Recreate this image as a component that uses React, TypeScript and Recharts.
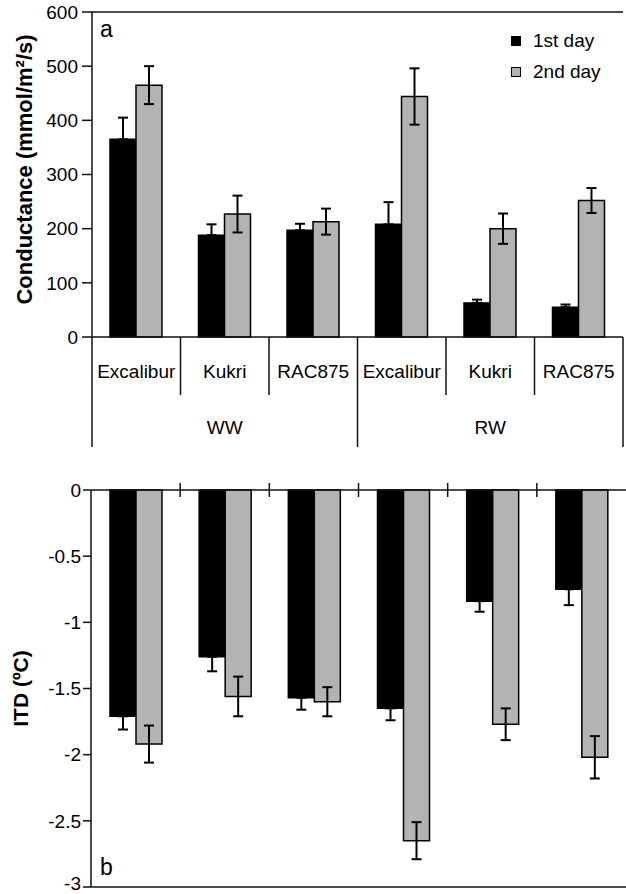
import { BarChart, Bar, XAxis, YAxis, ErrorBar, ReferenceLine, Legend } from "recharts";

// cultivars and watering groups
const categories = ["Excalibur", "Kukri", "RAC875", "Excalibur", "Kukri", "RAC875"];
const groups = ["WW", "WW", "WW", "RW", "RW", "RW"];

// panel a: stomatal conductance (mmol/m2/s)
const conductanceDay1 = [365, 188, 197, 208, 63, 55];
const conductanceErr1 = [40, 20, 12, 41, 6, 5];
const conductanceDay2 = [465, 227, 213, 444, 200, 252];
const conductanceErr2 = [35, 34, 24, 52, 28, 23];
const conductanceTicks = [0, 100, 200, 300, 400, 500, 600];

// panel b: ITD (ºC)
const itdDay1 = [-1.71, -1.26, -1.57, -1.65, -0.84, -0.75];
const itdErr1 = [0.1, 0.11, 0.09, 0.09, 0.08, 0.12];
const itdDay2 = [-1.92, -1.56, -1.6, -2.65, -1.77, -2.02];
const itdErr2 = [0.14, 0.15, 0.11, 0.14, 0.12, 0.16];
const itdTicks = [0, -0.5, -1, -1.5, -2, -2.5, -3];

const FONT = "'Liberation Sans', Arial, Helvetica, sans-serif";
const GRAY = "#b3b3b3";
const INK = "#111";

// black bars only show the outward half of the error bar
const topData = categories.map((name, i) => ({
  name,
  day1: conductanceDay1[i],
  day2: conductanceDay2[i],
  day1Err: [0, conductanceErr1[i]],
  day2Err: conductanceErr2[i],
}));

const bottomData = categories.map((name, i) => ({
  name,
  day1: itdDay1[i],
  day2: itdDay2[i],
  day1Err: [itdErr1[i], 0],
  day2Err: itdErr2[i],
}));

function CultivarTick(props: any) {
  const { x, y, payload } = props;
  const half = payload?.offset || 44;
  const i = payload?.index ?? props.index;
  return (
    <g>
      <text x={x} y={y + 41} textAnchor="middle" fontSize={19} fontFamily={FONT} fill="#000">
        {payload.value}
      </text>
      {i !== 2 && i !== 5 && (
        <line x1={x + half} x2={x + half} y1={y} y2={y + 58} stroke={INK} strokeWidth={1.5} />
      )}
      {(i === 0 || i === 3) && (
        <line x1={x - half} x2={x - half} y1={y} y2={y + 110} stroke={INK} strokeWidth={1.5} />
      )}
      {i === 5 && (
        <line x1={x + half} x2={x + half} y1={y} y2={y + 110} stroke={INK} strokeWidth={1.5} />
      )}
      {(i === 1 || i === 4) && (
        <text x={x} y={y + 97} textAnchor="middle" fontSize={19} fontFamily={FONT} fill="#000">
          {groups[i]}
        </text>
      )}
    </g>
  );
}

function BoundaryTick(props: any) {
  const { x, y, payload } = props;
  const half = payload?.offset || 44;
  const i = payload?.index ?? props.index;
  if (i === 5) return <g />;
  return <line x1={x + half} x2={x + half} y1={y - 7} y2={y + 7} stroke={INK} strokeWidth={1.5} />;
}

function DayLegend({ payload }: any) {
  return (
    <div style={{ fontFamily: FONT, fontSize: 19, color: "#000" }}>
      {(payload || []).map((e: any, i: number) => (
        <div key={i} style={{ display: "flex", alignItems: "center", height: 31 }}>
          <span
            style={{
              display: "inline-block",
              width: 8,
              height: 8,
              background: e.color ?? e.payload?.fill,
              border: "1.5px solid #000",
              marginRight: 12,
            }}
          />
          {e.value}
        </div>
      ))}
    </div>
  );
}

function axisTitle(text: string, cx: number, size: number, shift: number) {
  return ({ viewBox }: any) => {
    const cy = viewBox.y + viewBox.height / 2 + shift;
    return (
      <text
        x={cx}
        y={cy}
        transform={`rotate(-90, ${cx}, ${cy})`}
        textAnchor="middle"
        dominantBaseline="central"
        fontSize={size}
        fontWeight="bold"
        fontFamily={FONT}
        fill="#000"
      >
        {text}
      </text>
    );
  };
}

const tickStyle = { fontSize: 19, fontFamily: FONT, fill: "#000" };
const lineStyle = { stroke: INK, strokeWidth: 1.5 };

export default function App() {
  return (
    <div style={{ position: "absolute", left: 0, top: 0, width: 626, height: 894, background: "#fff" }}>
      <div style={{ position: "absolute", left: 0, top: 0 }}>
        <BarChart
          width={626}
          height={460}
          data={topData}
          margin={{ top: 12, right: 3, left: 0, bottom: 0 }}
          barSize={26}
          barGap={0}
        >
          <XAxis
            dataKey="name"
            height={123}
            interval={0}
            tickSize={0}
            tickMargin={0}
            tickLine={false}
            axisLine={lineStyle}
            tick={<CultivarTick />}
          />
          <YAxis
            width={92}
            domain={[0, 600]}
            ticks={conductanceTicks}
            tickSize={10}
            tickMargin={4}
            tick={tickStyle}
            tickLine={lineStyle}
            axisLine={lineStyle}
            label={{ content: axisTitle("Conductance (mmol/m²/s)", 24, 22, -5) }}
          />
          <YAxis
            yAxisId="frame"
            orientation="right"
            width={0}
            domain={[0, 600]}
            tick={false}
            tickLine={false}
            axisLine={lineStyle}
          />
          <ReferenceLine y={600} stroke={INK} strokeWidth={1.5} />
          <Legend
            layout="vertical"
            align="center"
            verticalAlign="middle"
            content={<DayLegend />}
            wrapperStyle={{ position: "absolute", left: 511, top: 25, width: 110 }}
          />
          <Bar dataKey="day1" name="1st day" fill="#000" stroke="#000" strokeWidth={1.5} isAnimationActive={false}>
            <ErrorBar dataKey="day1Err" width={5} stroke="#000" strokeWidth={2} />
          </Bar>
          <Bar dataKey="day2" name="2nd day" fill={GRAY} stroke="#000" strokeWidth={1.5} isAnimationActive={false}>
            <ErrorBar dataKey="day2Err" width={5} stroke="#000" strokeWidth={2} />
          </Bar>
        </BarChart>
      </div>

      <div style={{ position: "absolute", left: 0, top: 470 }}>
        <BarChart
          width={626}
          height={424}
          data={bottomData}
          margin={{ top: 0, right: 0, left: 0, bottom: 7 }}
          barSize={26}
          barGap={0}
        >
          <XAxis
            dataKey="name"
            orientation="top"
            height={20}
            interval={0}
            tickSize={0}
            tickMargin={0}
            tickLine={false}
            axisLine={lineStyle}
            tick={<BoundaryTick />}
          />
          <YAxis
            width={91}
            domain={[-3, 0]}
            ticks={itdTicks}
            tickSize={8}
            tickMargin={2}
            tick={tickStyle}
            tickLine={lineStyle}
            axisLine={lineStyle}
            label={{ content: axisTitle("ITD (ºC)", 20, 21, 0) }}
          />
          <ReferenceLine y={-3} stroke={INK} strokeWidth={1.5} />
          <Bar dataKey="day1" name="1st day" fill="#000" stroke="#000" strokeWidth={1.5} isAnimationActive={false}>
            <ErrorBar dataKey="day1Err" width={5} stroke="#000" strokeWidth={2} />
          </Bar>
          <Bar dataKey="day2" name="2nd day" fill={GRAY} stroke="#000" strokeWidth={1.5} isAnimationActive={false}>
            <ErrorBar dataKey="day2Err" width={5} stroke="#000" strokeWidth={2} />
          </Bar>
        </BarChart>
      </div>

      <div style={{ position: "absolute", left: 100, top: 18, fontFamily: FONT, fontSize: 23, lineHeight: "23px" }}>a</div>
      <div style={{ position: "absolute", left: 100, top: 856, fontFamily: FONT, fontSize: 23, lineHeight: "23px" }}>b</div>
    </div>
  );
}
